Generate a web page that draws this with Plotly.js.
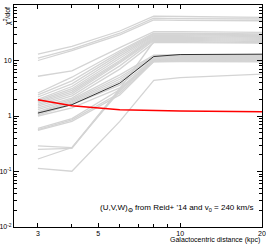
<!DOCTYPE html>
<html><head><meta charset="utf-8">
<script src="https://cdn.plot.ly/plotly-3.0.1.min.js"></script>
<style>html,body{margin:0;padding:0;background:#fff}#c{width:266px;height:249px}</style>
</head><body><div id="c"></div>
<script>
// Galactocentric distance (kpc) sample points
const distances = [3, 4, 6, 8, 10, 20];
// reference model (red) and best model (black)
const redSeries = [1.97, 1.53, 1.30, 1.26, 1.23, 1.19];
const blackSeries = [1.13, 1.6, 3.9, 11.8, 12.8, 13.0];
// grey models
const greySeries = [
  [13, 18, 34, 63, 62, 60],
  [11, 16, 31, 58, 57, 56],
  [10, 15, 29, 54, 53, 52],
  [5.2, 6.5, 17, 33, 33, 32],
  [2.6, 5.0, 15, 31, 31, 30],
  [2.4, 4.3, 14, 30, 30, 29],
  [2.2, 3.8, 13, 29, 29, 28],
  [2.0, 3.4, 12, 28, 28, 27],
  [1.9, 3.1, 11, 27, 27, 26],
  [1.8, 2.9, 10, 26, 26, 25],
  [1.7, 2.7, 9.5, 25, 25, 24],
  [1.6, 2.5, 9, 24, 24, 23],
  [1.5, 2.3, 8, 23, 23, 22],
  [0.29, 0.27, 3.1, 22, 22, 21],
  [1.4, 2.1, 7, 21, 21, 20.5],
  [1.3, 2.0, 5.5, 12.5, 12.8, 12.8],
  [1.2, 1.9, 5.0, 12, 12.3, 12.3],
  [1.15, 1.8, 4.6, 11.5, 11.8, 11.8],
  [1.1, 1.7, 4.2, 11, 11.3, 11.3],
  [1.05, 1.6, 3.6, 10.5, 10.8, 10.8],
  [1.0, 1.4, 3.2, 10.2, 10.4, 10.4],
  [0.6, 0.9, 3.0, 10.0, 10.2, 10.2],
  [0.57, 0.85, 2.6, 9.8, 10, 10],
  [0.55, 0.8, 2.4, 9.6, 9.8, 9.8],
  [0.25, 0.26, 3.0, 9.5, 9.6, 9.5],
  [0.168, 0.27, 2.8, 10.6, 10.9, 11],
  [0.114, 0.101, 0.8, 4.4, 4.9, 5.7]
];
const xTickVals = [3, 5, 10, 20];
const xTickText = ["3", "5", "10", "20"];
const xMinorVals = [4, 6, 7, 8, 9];
const yTickVals = [0.01, 0.1, 1, 10];
const yTickText = ["10<sup>-2</sup>", "10<sup>-1</sup>", "1", "10"];
const yMinorVals = [];
[0.01, 0.1, 1, 10].forEach(d => { for (let k = 2; k <= 9; k++) yMinorVals.push(+(d * k).toPrecision(3)); });

const traces = [];
greySeries.forEach(s => traces.push({x: distances, y: s, mode: 'lines', line: {color: '#d4d4d4', width: 1.3}, hoverinfo: 'skip'}));
traces.push({x: distances, y: blackSeries, mode: 'lines', line: {color: '#333333', width: 1}});
traces.push({x: distances, y: redSeries, mode: 'lines', line: {color: '#ff0000', width: 1.5}});

const fnt = {family: 'Liberation Sans, Arial, sans-serif', size: 7, color: '#000'};
const layout = {
  width: 266, height: 249,
  margin: {l: 14, r: 4, t: 5, b: 22},
  showlegend: false,
  paper_bgcolor: '#fff', plot_bgcolor: '#fff',
  font: fnt,
  xaxis: {
    type: 'log', range: [Math.log10(2.45), Math.log10(20)],
    tickmode: 'array', tickvals: xTickVals, ticktext: xTickText,
    ticks: 'inside', ticklen: 4, tickwidth: 1, tickcolor: '#000',
    minor: {tickmode: 'array', tickvals: xMinorVals, ticks: 'inside', ticklen: 3, tickcolor: '#000', showgrid: false},
    showline: true, linecolor: '#000', linewidth: 1, mirror: 'allticks',
    showgrid: false, zeroline: false, tickfont: fnt
  },
  yaxis: {
    type: 'log', range: [-2, 2],
    tickmode: 'array', tickvals: yTickVals, ticktext: yTickText,
    ticks: 'inside', ticklen: 5, tickwidth: 1, tickcolor: '#000',
    minor: {tickmode: 'array', tickvals: yMinorVals, ticks: 'inside', ticklen: 3, tickcolor: '#000', showgrid: false},
    showline: true, linecolor: '#000', linewidth: 1, mirror: 'allticks',
    showgrid: false, zeroline: false, tickfont: fnt
  },
  annotations: [
    {xref: 'paper', yref: 'paper', x: -0.028, y: 1, xanchor: 'center', yanchor: 'top', textangle: -90,
     text: 'χ<sup>2</sup>/dof', showarrow: false, font: fnt},
    {xref: 'paper', yref: 'paper', x: 1, y: -0.058, xanchor: 'right', yanchor: 'middle',
     text: 'Galactocentric distance (kpc)', showarrow: false, font: fnt},
    {xref: 'paper', yref: 'paper', x: 0.34, y: 0.085, xanchor: 'left', yanchor: 'middle',
     text: '(U,V,W)<sub><b>⊙</b></sub> from Reid+ \'14 and v<sub>0</sub> = 240 km/s', showarrow: false,
     font: {family: 'Liberation Sans, Arial, sans-serif', size: 8, color: '#000'}}
  ]
};
Plotly.newPlot('c', traces, layout, {staticPlot: true, displayModeBar: false});
</script></body></html>
